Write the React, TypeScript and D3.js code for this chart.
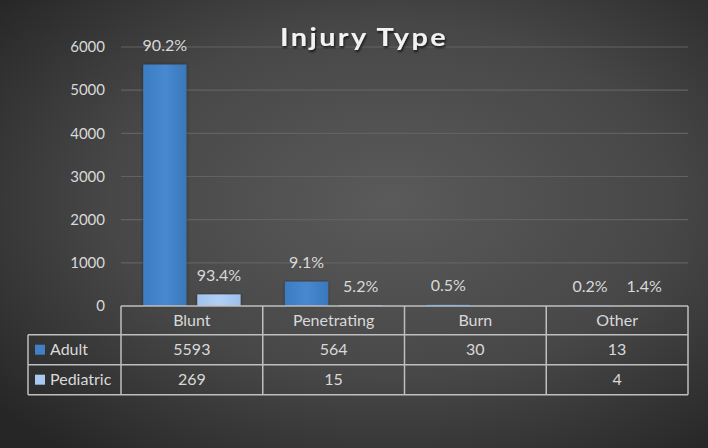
import React from "react";
import * as d3 from "d3";

const categories = ["Blunt", "Penetrating", "Burn", "Other"];
const seriesNames = ["Adult", "Pediatric"];
const adultValues: (number | null)[] = [5593, 564, 30, 13];
const pediatricValues: (number | null)[] = [269, 15, null, 4];
const adultPct = ["90.2%", "9.1%", "0.5%", "0.2%"];
const pediatricPct = ["93.4%", "5.2%", "", "1.4%"];
const yTicks = [0, 1000, 2000, 3000, 4000, 5000, 6000];

const W = 708;
const H = 448;
const plot = { left: 121, right: 688, top: 47, bottom: 306 };
const tableRows = [306, 334.7, 364.7, 394.7];
const legendLeft = 28;
const font = "Lato, 'Open Sans', sans-serif";
const textColor = "#d9d9d9";
const colors = ["url(#adultGrad)", "url(#pedGrad)"];
const swatch = ["#3f80c6", "#a9c9f0"];

export default function App() {
  const x0 = d3.scaleBand<string>().domain(categories).range([plot.left, plot.right]);
  const x1 = d3
    .scaleBand<string>()
    .domain(seriesNames)
    .range([0, x0.bandwidth()])
    .paddingInner(0.2)
    .paddingOuter(0.41);
  const y = d3.scaleLinear().domain([0, 6000]).range([plot.bottom, plot.top]);

  const series = [adultValues, pediatricValues];
  const pcts = [adultPct, pediatricPct];

  return (
    <svg
      width={W}
      height={H}
      style={{ position: "absolute", left: 0, top: 0 }}
      fontFamily={font}
    >
      <defs>
        <radialGradient id="bg" cx="0.55" cy="0.45" r="0.72">
          <stop offset="0" stopColor="#5a5a5a" />
          <stop offset="0.55" stopColor="#474747" />
          <stop offset="1" stopColor="#262626" />
        </radialGradient>
        <linearGradient id="adultGrad" x1="0" x2="1" y1="0" y2="0">
          <stop offset="0" stopColor="#3b7cc2" />
          <stop offset="0.5" stopColor="#4789cf" />
          <stop offset="1" stopColor="#3a78bb" />
        </linearGradient>
        <linearGradient id="pedGrad" x1="0" x2="1" y1="0" y2="0">
          <stop offset="0" stopColor="#9fc2ec" />
          <stop offset="0.5" stopColor="#b0cff3" />
          <stop offset="1" stopColor="#9cbfe9" />
        </linearGradient>
        <filter id="titleShadow" x="-10%" y="-30%" width="120%" height="160%">
          <feDropShadow dx="1" dy="2" stdDeviation="1.2" floodColor="#000" floodOpacity="0.7" />
        </filter>
        <filter id="barShadow" x="-20%" y="-5%" width="140%" height="110%">
          <feDropShadow dx="0" dy="0" stdDeviation="1.5" floodColor="#000" floodOpacity="0.45" />
        </filter>
      </defs>
      <rect width={W} height={H} fill="url(#bg)" />

      {/* gridlines + y ticks */}
      {yTicks.map((t) => (
        <g key={t}>
          {t > 0 && (
            <line
              x1={plot.left}
              x2={plot.right}
              y1={y(t)}
              y2={y(t)}
              stroke="#626262"
              strokeWidth={1.2}
            />
          )}
          <text
            x={105}
            y={y(t)}
            dy="0.35em"
            textAnchor="end"
            fontSize={15}
            fill={textColor}
          >
            {t}
          </text>
        </g>
      ))}

      {/* title */}
      <text
        x={364}
        y={46}
        textAnchor="middle"
        fontSize={24}
        fontWeight={700}
        fill="#f2f2f2"
        letterSpacing={2}
        textLength={168}
        lengthAdjust="spacingAndGlyphs"
        filter="url(#titleShadow)"
      >
        Injury Type
      </text>

      {/* bars */}
      {categories.map((c, i) => (
        <g key={c} transform={`translate(${x0(c)},0)`}>
          {seriesNames.map((s, j) => {
            const v = series[j][i];
            const bx = x1(s)!;
            return (
              <g key={s}>
                {v != null && (
                  <rect
                    x={bx}
                    y={y(v)}
                    width={x1.bandwidth()}
                    height={y(0) - y(v)}
                    fill={colors[j]}
                    filter="url(#barShadow)"
                  />
                )}
                {pcts[j][i] && (
                  <text
                    x={bx + x1.bandwidth() / 2}
                    y={v != null ? Math.min(y(v) - 19, 286) : 286}
                    dy="0.35em"
                    textAnchor="middle"
                    fontSize={16}
                    fill={textColor}
                  >
                    {pcts[j][i]}
                  </text>
                )}
              </g>
            );
          })}
        </g>
      ))}

      {/* data table */}
      <g stroke="#bfbfbf" strokeWidth={1.5} fill="none">
        <line x1={plot.left} x2={plot.right} y1={tableRows[0]} y2={tableRows[0]} />
        {tableRows.slice(1).map((r) => (
          <line key={r} x1={legendLeft} x2={plot.right} y1={r} y2={r} />
        ))}
        {categories.map((c) => (
          <line key={c} x1={x0(c)} x2={x0(c)} y1={tableRows[0]} y2={tableRows[3]} />
        ))}
        <line x1={plot.right} x2={plot.right} y1={tableRows[0]} y2={tableRows[3]} />
        <line x1={legendLeft} x2={legendLeft} y1={tableRows[1]} y2={tableRows[3]} />
      </g>
      {categories.map((c) => (
        <text
          key={c}
          x={x0(c)! + x0.bandwidth() / 2}
          y={(tableRows[0] + tableRows[1]) / 2}
          dy="0.35em"
          textAnchor="middle"
          fontSize={16}
          fill={textColor}
        >
          {c}
        </text>
      ))}
      {seriesNames.map((s, j) => {
        const cy = (tableRows[j + 1] + tableRows[j + 2]) / 2;
        return (
          <g key={s}>
            <rect x={35} y={cy - 5} width={10} height={10} fill={swatch[j]} />
            <text x={50} y={cy} dy="0.35em" fontSize={16} fill={textColor}>
              {s}
            </text>
            {categories.map((c, i) =>
              series[j][i] != null ? (
                <text
                  key={c}
                  x={x0(c)! + x0.bandwidth() / 2}
                  y={cy}
                  dy="0.35em"
                  textAnchor="middle"
                  fontSize={16}
                  fill={textColor}
                >
                  {series[j][i]}
                </text>
              ) : null
            )}
          </g>
        );
      })}
    </svg>
  );
}
